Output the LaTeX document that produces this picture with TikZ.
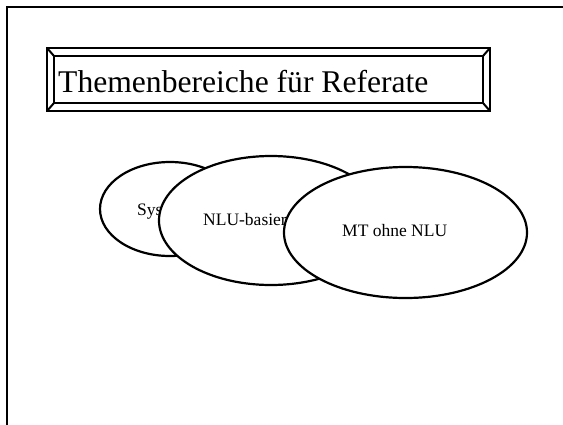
\documentclass[tikz,border=0pt]{standalone}
\usepackage{fontspec}
\setmainfont{Liberation Serif}
\usetikzlibrary{shapes.geometric}
\begin{document}
\begin{tikzpicture}[x=1pt,y=-1pt,
  frameline/.style={line width=2.6pt},
  blob/.style={ellipse,draw,fill=white,line width=2.2pt,inner sep=0pt},
  lbl/.style={anchor=base west,inner sep=0pt,font=\fontsize{17.5}{21}\selectfont}]
\useasboundingbox (0,0) rectangle (563,424);
% page frame
\coordinate (fa) at (7,430);
\coordinate (fb) at (7,7);
\coordinate (fc) at (570,7);
\draw[frameline] (fa) -- (fb) -- (fc);
% bevelled title box
\coordinate (o1) at (47,48);
\coordinate (o2) at (490,48);
\coordinate (o3) at (490,111);
\coordinate (o4) at (47,111);
\coordinate (i1) at (54,56);
\coordinate (i2) at (483,56);
\coordinate (i3) at (483,103);
\coordinate (i4) at (54,103);
\draw[frameline] (o1) -- (o2) -- (o3) -- (o4) -- cycle;
\draw[line width=2pt] (i1) -- (i2) -- (i3) -- (i4) -- cycle;
\draw[line width=2pt] (o1) -- (i1) (o2) -- (i2) (o3) -- (i3) (o4) -- (i4);
\node[anchor=base west,inner sep=0pt,font=\fontsize{31.6}{36}\selectfont] (title) at (58,92) {Themenbereiche für Referate};
% ellipses
\node[blob,minimum width=140pt,minimum height=94pt] (e1) at (170,209) {};
\node[lbl] (t1) at (137,215) {Sys};
\node[blob,minimum width=224pt,minimum height=129pt] (e2) at (271,220.5) {};
\node[lbl] (t2) at (203,225) {NLU-basier};
\node[blob,minimum width=243pt,minimum height=131pt] (e3) at (405.5,232.5) {};
\node[lbl] (t3) at (342,236) {MT ohne NLU};
\end{tikzpicture}
\end{document}
